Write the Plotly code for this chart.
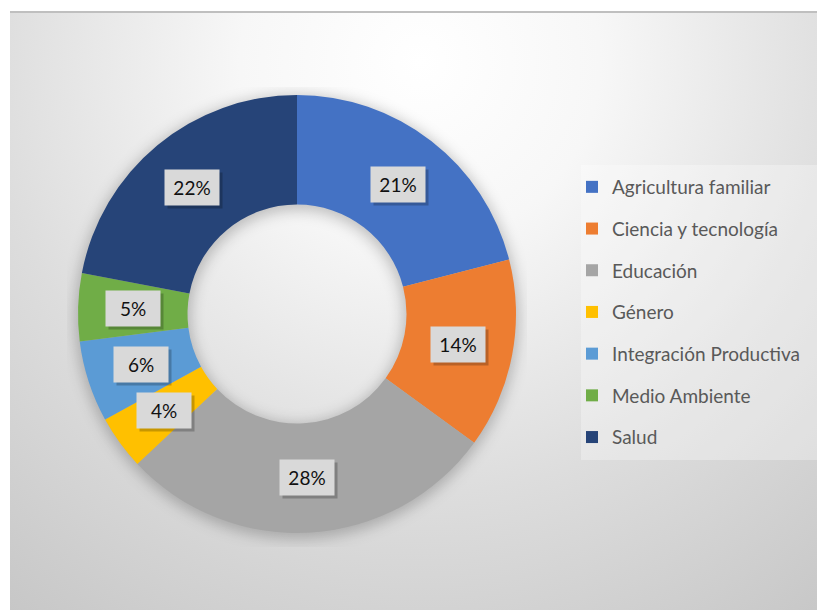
import math, base64
import plotly.graph_objects as go

categories = ["Agricultura familiar", "Ciencia y tecnología", "Educación", "Género",
              "Integración Productiva", "Medio Ambiente", "Salud"]
values = [21, 14, 28, 4, 6, 5, 22]
colors = ["#4472C4", "#ED7D31", "#A5A5A5", "#FFC000", "#5B9BD5", "#70AD47", "#264478"]

W, H = 825, 610
OFF = 8  # page body margin in the browser
def fx(x): return (x - OFF) / W
def fy(y): return 1 - (y - OFF) / H

CX, CY, R = 297, 314, 219   # donut center and outer radius (window px)
HOLE = 0.5
FONT = "Lato, 'Noto Sans', sans-serif"

BX, BY = 10, 12
bw, bh = 825 - BX + OFF, 610 - BY + OFF
scx, scy = CX - BX, CY - BY
rin = R * HOLE
svg = f'''<svg xmlns="http://www.w3.org/2000/svg" width="{bw}" height="{bh}" viewBox="0 0 {bw} {bh}" preserveAspectRatio="none">
<defs><radialGradient id="g" gradientUnits="userSpaceOnUse" cx="410" cy="50" r="720">
<stop offset="0" stop-color="#ffffff"/><stop offset="0.25" stop-color="#f7f7f7"/>
<stop offset="0.6" stop-color="#dddddd"/><stop offset="1" stop-color="#c4c4c4"/>
</radialGradient>
<filter id="b" x="-20%" y="-20%" width="140%" height="140%"><feGaussianBlur stdDeviation="7"/></filter></defs>
<rect width="{bw}" height="{bh}" fill="url(#g)"/>
<circle cx="{scx}" cy="{scy + 3}" r="{(R + rin) / 2}" fill="none" stroke="#000" stroke-opacity="0.22"
 stroke-width="{R - rin + 6}" filter="url(#b)"/></svg>'''
svg_uri = "data:image/svg+xml;base64," + base64.b64encode(svg.encode()).decode()

fig = go.Figure()
fig.add_trace(go.Pie(
    labels=categories, values=values, hole=HOLE, sort=False, direction="clockwise",
    rotation=0, marker=dict(colors=colors, line=dict(width=0)),
    textinfo="none", hoverinfo="label+percent", showlegend=False,
    domain=dict(x=[fx(CX - R), fx(CX + R)], y=[fy(CY + R), fy(CY - R)]),
))

for cat, col in zip(categories, colors):
    fig.add_trace(go.Scatter(x=[None], y=[None], mode="markers", name=cat, legendgroup=cat,
                             marker=dict(symbol="square", size=12, color=col)))

total = sum(values)
rmid = R * (1 + HOLE) / 2
cum = 0
for v in values:
    ang = 2 * math.pi * (cum + v / 2) / total
    cum += v
    px = CX + rmid * math.sin(ang)
    py = CY - rmid * math.cos(ang)
    txt = f"{round(100 * v / total)}%"
    common = dict(x=fx(px), y=fy(py), xref="paper", yref="paper", showarrow=False, borderpad=7,
                  xanchor="center", yanchor="middle", width=40, height=21)
    fig.add_annotation(text="\u00a0", bgcolor="rgba(0,0,0,0.22)", xshift=3, yshift=-3,
                       font=dict(family=FONT, size=19), **common)
    fig.add_annotation(text=txt, bgcolor="#d9d9d9",
                       font=dict(family=FONT, size=19, color="#111111"), **common)

fig.update_layout(
    width=W, height=H, margin=dict(l=0, r=0, t=0, b=0),
    paper_bgcolor="white", plot_bgcolor="rgba(0,0,0,0)",
    xaxis=dict(visible=False), yaxis=dict(visible=False),
    images=[dict(source=svg_uri, xref="paper", yref="paper", x=fx(BX), y=fy(BY),
                 sizex=bw / W, sizey=bh / H, sizing="stretch", layer="below",
                 xanchor="left", yanchor="top")],
    shapes=[
        dict(type="line", xref="paper", yref="paper", x0=fx(BX), x1=1, y0=fy(BY), y1=fy(BY),
             line=dict(color="#bfbfbf", width=2)),
        dict(type="rect", xref="paper", yref="paper", x0=fx(581), x1=fx(822), y0=fy(460), y1=fy(165),
             fillcolor="rgba(255,255,255,0.3)", line=dict(width=0), layer="below"),
    ],
    legend=dict(x=fx(572), y=fy(168), xanchor="left", yanchor="top",
                bgcolor="rgba(0,0,0,0)", font=dict(family=FONT, size=19, color="#595959"),
                tracegroupgap=14, itemsizing="trace", traceorder="grouped", itemwidth=30),
    showlegend=True,
)

fig.write_html("out.html")
